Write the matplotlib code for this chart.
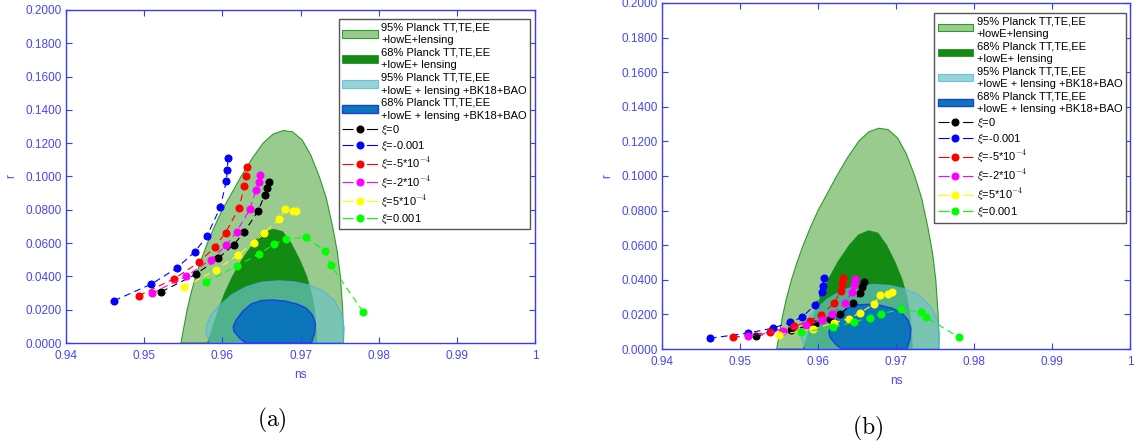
"""Two-panel ns-r plane: Planck / BK18 contours with inflation predictions for several xi."""

import matplotlib
matplotlib.use("Agg")
import matplotlib.pyplot as plt
from matplotlib.patches import Polygon, Patch
from matplotlib.lines import Line2D

plt.rcParams["font.family"] = ["Liberation Sans", "DejaVu Sans"]
plt.rcParams["mathtext.fontset"] = "cm"

planck95_ns = [0.9547, 0.9551, 0.9555, 0.9560, 0.9566, 0.9573, 0.9581, 0.9590, 0.9600,
               0.9612, 0.9624, 0.9637, 0.9652, 0.9665, 0.9678, 0.9690, 0.9702, 0.9713,
               0.9724, 0.9733, 0.9741, 0.9747, 0.9751, 0.9754, 0.9755]
planck95_r = [0.0, 0.010, 0.020, 0.030, 0.040, 0.050, 0.060, 0.070, 0.080,
              0.090, 0.100, 0.110, 0.120, 0.1255, 0.1276, 0.1268, 0.1220, 0.1130,
              0.100, 0.087, 0.070, 0.055, 0.040, 0.020, 0.0]

planck68_ns = [0.9581, 0.9588, 0.9595, 0.9603, 0.9613, 0.9625, 0.9640, 0.9652, 0.9665,
               0.9677, 0.9688, 0.9699, 0.9708, 0.9714, 0.9718, 0.9720, 0.9721]
planck68_r = [0.0, 0.010, 0.020, 0.030, 0.040, 0.050, 0.060, 0.066, 0.0684,
              0.067, 0.060, 0.050, 0.040, 0.030, 0.020, 0.010, 0.0]

bk95_ns = [0.9584, 0.9579, 0.9580, 0.9586, 0.9597, 0.9612, 0.9630, 0.9650, 0.9672,
           0.9692, 0.9712, 0.9730, 0.9744, 0.9753, 0.9756, 0.9755]
bk95_r = [0.0, 0.006, 0.011, 0.017, 0.023, 0.029, 0.0337, 0.0366, 0.0374,
          0.0368, 0.0348, 0.0310, 0.0250, 0.0170, 0.0090, 0.0]

bk68_ns = [0.9630, 0.9622, 0.9615, 0.9614, 0.9618, 0.9626, 0.9637, 0.9650, 0.9665,
           0.9680, 0.9695, 0.9707, 0.9715, 0.9719, 0.9718, 0.9714]
bk68_r = [0.0, 0.003, 0.007, 0.010, 0.014, 0.019, 0.0235, 0.0255, 0.0258,
          0.0252, 0.0235, 0.0210, 0.0170, 0.0120, 0.0060, 0.0]

contour_labels = ["95% Planck TT,TE,EE\n+lowE+lensing",
                  "68% Planck TT,TE,EE\n+lowE+ lensing",
                  "95% Planck TT,TE,EE\n+lowE + lensing +BK18+BAO",
                  "68% Planck TT,TE,EE\n+lowE + lensing +BK18+BAO"]

xi_labels = [r"$\xi$=0", r"$\xi$=-0.001", r"$\xi$=-5*10$^{-4}$",
             r"$\xi$=-2*10$^{-4}$", r"$\xi$=5*10$^{-4}$", r"$\xi$=0.001"]
xi_colors = ["black", "#0000ff", "#ff0000", "#ff00ff", "#ffff00", "#00ff00"]

# ---- panel (a) predictions ----
ns_a_xi0 = [0.95221, 0.95658, 0.9595, 0.96146, 0.96282, 0.96456, 0.96542, 0.9657, 0.96597]
r_a_xi0 = [0.0308, 0.0412, 0.0510, 0.0590, 0.0668, 0.0792, 0.0888, 0.0928, 0.0964]
ns_a_m1e3 = [0.94615, 0.95093, 0.95417, 0.95649, 0.9580, 0.95973, 0.9605, 0.96064, 0.96073]
r_a_m1e3 = [0.0254, 0.0354, 0.0450, 0.0548, 0.0640, 0.0814, 0.0970, 0.1040, 0.1112]
ns_a_m5e4 = [0.94929, 0.95385, 0.95699, 0.9590, 0.96041, 0.96214, 0.96282, 0.9630, 0.96314]
r_a_m5e4 = [0.0284, 0.0386, 0.0484, 0.0574, 0.0662, 0.0812, 0.0944, 0.1004, 0.1060]
ns_a_m2e4 = [0.95098, 0.9554, 0.9585, 0.9605, 0.96182, 0.96351, 0.96428, 0.96465, 0.96478]
r_a_m2e4 = [0.0298, 0.0402, 0.0500, 0.0586, 0.0668, 0.0802, 0.0916, 0.0964, 0.1010]
ns_a_p5e4 = [0.95512, 0.95923, 0.96196, 0.96401, 0.96538, 0.9672, 0.96802, 0.96902, 0.96948]
r_a_p5e4 = [0.0336, 0.0440, 0.0528, 0.0602, 0.0662, 0.0742, 0.0802, 0.0792, 0.0792]
ns_a_p1e3 = [0.95786, 0.96187, 0.96469, 0.96665, 0.96811, 0.97066, 0.97317, 0.9739, 0.97804]
r_a_p1e3 = [0.0364, 0.0462, 0.0536, 0.0592, 0.0624, 0.0634, 0.0554, 0.0466, 0.0186]

# ---- panel (b) predictions ----
ns_b_xi0 = [0.9521, 0.95654, 0.95957, 0.96149, 0.96282, 0.96452, 0.96544, 0.96566, 0.96594]
r_b_xi0 = [0.0077, 0.0108, 0.0144, 0.0171, 0.0202, 0.0265, 0.0325, 0.0360, 0.0390]
ns_b_m1e3 = [0.94614, 0.9510, 0.95425, 0.95645, 0.95792, 0.95966, 0.96049, 0.96067, 0.96076]
r_b_m1e3 = [0.0062, 0.0092, 0.0121, 0.0154, 0.0183, 0.0256, 0.0329, 0.0367, 0.0412]
ns_b_m5e4 = [0.94912, 0.9538, 0.95691, 0.95897, 0.96035, 0.96209, 0.96291, 0.9631, 0.96324]
r_b_m5e4 = [0.0067, 0.0098, 0.0131, 0.0163, 0.0196, 0.0265, 0.0338, 0.0375, 0.0412]
ns_b_m2e4 = [0.9510, 0.95549, 0.95851, 0.96049, 0.96181, 0.96347, 0.96438, 0.96461, 0.9647]
r_b_m2e4 = [0.0073, 0.0106, 0.0138, 0.0169, 0.0200, 0.0267, 0.0331, 0.0371, 0.0404]
ns_b_p5e4 = [0.95503, 0.95934, 0.9620, 0.96392, 0.96534, 0.96718, 0.9680, 0.96901, 0.96947]
r_b_p5e4 = [0.0083, 0.0115, 0.0150, 0.0175, 0.0208, 0.0260, 0.0312, 0.0319, 0.0327]
ns_b_p1e3 = [0.95778, 0.96191, 0.96466, 0.96663, 0.96809, 0.97066, 0.97318, 0.97387, 0.97808]
r_b_p1e3 = [0.0096, 0.0125, 0.0156, 0.0181, 0.0204, 0.0229, 0.0213, 0.0183, 0.0067]

x_ticks = [0.94, 0.95, 0.96, 0.97, 0.98, 0.99, 1.0]
x_ticklabels = ["0.94", "0.95", "0.96", "0.97", "0.98", "0.99", "1"]
y_ticks = [0.0, 0.02, 0.04, 0.06, 0.08, 0.10, 0.12, 0.14, 0.16, 0.18, 0.20]

AXIS_BLUE = "#3a3aff"
LABEL_BLUE = "#4646f5"
DASH = (0, (6, 4))
LEGEND_DASH = (0, (10, 12))

CONTOUR_STYLES = [
    dict(facecolor="#9acb8e", edgecolor="#2c9c2c", linewidth=0.8, alpha=1.0),
    dict(facecolor="#138a13", edgecolor="#138a13", linewidth=0.5, alpha=1.0),
    dict(facecolor=(0.42, 0.76, 0.76), edgecolor="#45aef0", linewidth=0.8, alpha=0.7),
    dict(facecolor="#0b76ba", edgecolor="#1b3fe0", linewidth=1.0, alpha=1.0),
]


def draw_panel(ax, series):
    contours = [(planck95_ns, planck95_r), (planck68_ns, planck68_r),
                (bk95_ns, bk95_r), (bk68_ns, bk68_r)]
    handles = []
    for (xs, ys), style, label in zip(contours, CONTOUR_STYLES, contour_labels):
        poly = Polygon(list(zip(xs, ys)), closed=True, **style)
        ax.add_patch(poly)
        handles.append(Patch(label=label, **style))

    for (xs, ys), color, label in zip(series, xi_colors, xi_labels):
        ax.plot(xs, ys, linestyle=DASH, linewidth=0.8, color=color,
                marker="o", markersize=4.8, markerfacecolor=color,
                markeredgecolor=color, zorder=5)
        handles.append(Line2D([], [], linestyle=LEGEND_DASH, linewidth=0.8, color=color,
                              marker="o", markersize=4.8, label=label))

    ax.set_xlim(0.94, 1.0)
    ax.set_ylim(0.0, 0.2)
    ax.set_xticks(x_ticks)
    ax.set_xticklabels(x_ticklabels)
    ax.set_yticks(y_ticks)
    ax.set_yticklabels([f"{v:.4f}" for v in y_ticks])
    ax.tick_params(direction="in", top=True, right=True, length=4, width=0.8,
                   color=AXIS_BLUE, labelcolor=LABEL_BLUE, labelsize=8.5)
    ax.tick_params(axis="x", pad=5)
    ax.tick_params(axis="y", pad=3)
    for spine in ax.spines.values():
        spine.set_color(AXIS_BLUE)
        spine.set_linewidth(1.0)
    ax.set_xlabel("ns", color=LABEL_BLUE, fontsize=8.5, labelpad=5)
    ax.set_ylabel("r", color=LABEL_BLUE, fontsize=8.5, labelpad=6)

    leg = ax.legend(handles=handles, loc="upper left", bbox_to_anchor=(0.582, 0.972),
                    fontsize=8, handlelength=3.2, handletextpad=0.3, labelspacing=0.2,
                    borderpad=0.3, borderaxespad=0.0, fancybox=False, framealpha=1.0,
                    edgecolor="#555555")
    leg.get_frame().set_linewidth(1.0)
    for txt in leg.get_texts():
        txt.set_linespacing(1.35)


fig = plt.figure(figsize=(11.4, 4.48), dpi=100)
ax_a = fig.add_axes([66 / 1140, 1 - 343 / 448, 469 / 1140, 333 / 448])
ax_b = fig.add_axes([662 / 1140, 1 - 349 / 448, 468 / 1140, 346 / 448])

draw_panel(ax_a, [(ns_a_xi0, r_a_xi0), (ns_a_m1e3, r_a_m1e3), (ns_a_m5e4, r_a_m5e4),
                  (ns_a_m2e4, r_a_m2e4), (ns_a_p5e4, r_a_p5e4), (ns_a_p1e3, r_a_p1e3)])
draw_panel(ax_b, [(ns_b_xi0, r_b_xi0), (ns_b_m1e3, r_b_m1e3), (ns_b_m5e4, r_b_m5e4),
                  (ns_b_m2e4, r_b_m2e4), (ns_b_p5e4, r_b_p5e4), (ns_b_p1e3, r_b_p1e3)])

fig.text(272 / 1140, 1 - 420 / 448, r"$\mathrm{(a)}$", fontsize=17, ha="center", va="center")
fig.text(868 / 1140, 1 - 428 / 448, r"$\mathrm{(b)}$", fontsize=17, ha="center", va="center")

fig.savefig("out.png", dpi=100)
